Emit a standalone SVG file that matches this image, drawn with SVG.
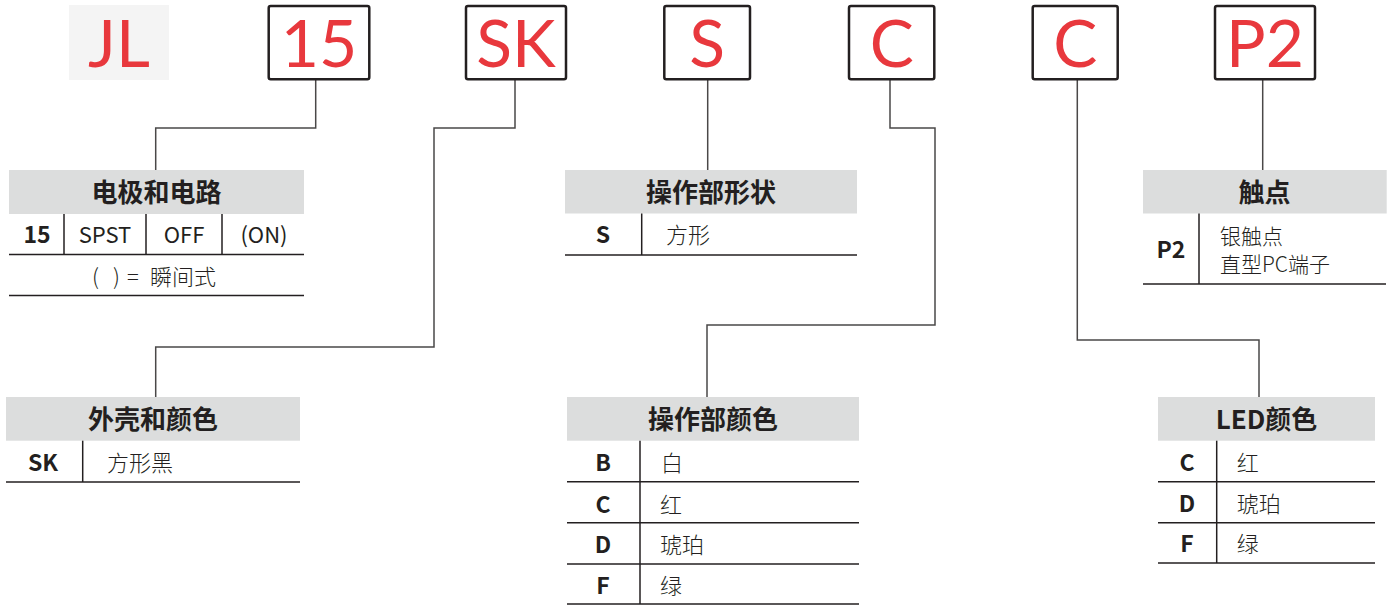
<svg xmlns="http://www.w3.org/2000/svg" width="1389" height="605" viewBox="0 0 1389 605">
<style>
.box{fill:#fff;stroke:#231f20;stroke-width:2.5}
.code{font-family:Lato,"Liberation Sans",sans-serif;font-size:66px;fill:#e8383d;text-anchor:middle;font-weight:400}
.hdr{fill:#dcdddd}
.ht{font-family:"Noto Sans CJK SC",sans-serif;font-size:26px;font-weight:700;fill:#231f20;text-anchor:middle}
.lbl{font-family:"Noto Sans CJK SC",sans-serif;font-size:23px;font-weight:700;fill:#231f20;text-anchor:middle}
.val{font-family:"Noto Sans CJK SC",sans-serif;font-size:22px;font-weight:300;fill:#231f20}
.val2{font-family:"Noto Sans CJK SC",sans-serif;font-size:21px;font-weight:300;fill:#231f20}
.valc{font-family:"Noto Sans CJK SC",sans-serif;font-size:22px;font-weight:400;fill:#231f20;text-anchor:middle}
.tl{stroke:#231f20;stroke-width:1.5;fill:none}
.cn{stroke:#4a4848;stroke-width:1.5;fill:none}
</style>

<g id="connectors">
<polyline class="cn" points="315.7,79 315.7,128 155.7,128 155.7,170"/>
<polyline class="cn" points="515,79 515,128 434,128 434,347 155.7,347 155.7,397"/>
<polyline class="cn" points="707.7,79 707.7,170"/>
<polyline class="cn" points="890,79 890,128 935,128 935,325 707,325 707,397"/>
<polyline class="cn" points="1077.3,79 1077.3,340 1259,340 1259,397"/>
<polyline class="cn" points="1262.7,79 1262.7,170"/>
</g>

<g id="code-JL">
<rect x="69" y="5" width="100" height="75" fill="#f4f4f4"/>
<text class="code" x="119" y="67">JL</text>
</g>
<g id="code-15">
<rect class="box" x="268.7" y="6" width="100.6" height="73.3" rx="2"/>
<text class="code" x="319" y="67">15</text>
</g>
<g id="code-SK">
<rect class="box" x="466" y="6" width="100" height="73.3" rx="2"/>
<text class="code" x="516" y="67">SK</text>
</g>
<g id="code-S">
<rect class="box" x="664.3" y="6" width="85.7" height="73.3" rx="2"/>
<text class="code" x="707.2" y="67">S</text>
</g>
<g id="code-C">
<rect class="box" x="849" y="6" width="85.3" height="73.3" rx="2"/>
<text class="code" x="891.7" y="67">C</text>
</g>
<g id="code-C2">
<rect class="box" x="1032.7" y="6" width="85" height="73.3" rx="2"/>
<text class="code" x="1075.2" y="67">C</text>
</g>
<g id="code-P2">
<rect class="box" x="1215" y="6" width="100" height="73.3" rx="2"/>
<text class="code" x="1265" y="67">P2</text>
</g>

<g id="table-poles">
<rect class="hdr" x="9" y="170" width="295" height="44"/>
<text class="ht" x="156.5" y="202">电极和电路</text>
<line class="tl" x1="64" y1="214" x2="64" y2="254"/>
<line class="tl" x1="146" y1="214" x2="146" y2="254"/>
<line class="tl" x1="222" y1="214" x2="222" y2="254"/>
<line class="tl" x1="9" y1="254.5" x2="304" y2="254.5"/>
<line class="tl" x1="9" y1="295.5" x2="304" y2="295.5"/>
<text class="lbl" x="37" y="243">15</text>
<text class="valc" x="105" y="243">SPST</text>
<text class="valc" x="184" y="243">OFF</text>
<text class="valc" x="264" y="243">(ON)</text>
<text class="val" y="285"><tspan x="92">(</tspan><tspan x="113">)</tspan><tspan x="127">=</tspan><tspan x="150">瞬间式</tspan></text>
</g>

<g id="table-actuator-shape">
<rect class="hdr" x="565" y="170" width="292" height="43.5"/>
<text class="ht" x="711" y="202">操作部形状</text>
<line class="tl" x1="641.7" y1="213.5" x2="641.7" y2="255"/>
<line class="tl" x1="565" y1="255" x2="857" y2="255"/>
<text class="lbl" x="603" y="243">S</text>
<text class="val" x="666" y="243">方形</text>
</g>

<g id="table-contact">
<rect class="hdr" x="1143" y="170" width="243.7" height="43.5"/>
<text class="ht" x="1264.5" y="202">触点</text>
<line class="tl" x1="1199" y1="213.5" x2="1199" y2="284"/>
<line class="tl" x1="1143" y1="284" x2="1386" y2="284"/>
<text class="lbl" x="1171" y="257.5">P2</text>
<text class="val2" x="1220" y="244">银触点</text>
<text class="val2" x="1220" y="272">直型PC端子</text>
</g>

<g id="table-housing">
<rect class="hdr" x="6" y="397" width="294" height="43.7"/>
<text class="ht" x="153" y="429">外壳和颜色</text>
<line class="tl" x1="82.7" y1="440.7" x2="82.7" y2="482"/>
<line class="tl" x1="6" y1="482" x2="300" y2="482"/>
<text class="lbl" x="43" y="471">SK</text>
<text class="val" x="107" y="471">方形黑</text>
</g>

<g id="table-actuator-color">
<rect class="hdr" x="567" y="397" width="292" height="43.7"/>
<text class="ht" x="713" y="429">操作部颜色</text>
<line class="tl" x1="640" y1="440.7" x2="640" y2="604"/>
<line class="tl" x1="567" y1="481.7" x2="859" y2="481.7"/>
<line class="tl" x1="567" y1="522.7" x2="859" y2="522.7"/>
<line class="tl" x1="567" y1="564" x2="859" y2="564"/>
<line class="tl" x1="567" y1="604" x2="859" y2="604"/>
<text class="lbl" x="603" y="471">B</text>
<text class="val" x="661" y="471">白</text>
<text class="lbl" x="603" y="512.5">C</text>
<text class="val" x="660" y="512.5">红</text>
<text class="lbl" x="603" y="553">D</text>
<text class="val" x="660" y="553">琥珀</text>
<text class="lbl" x="603" y="593.5">F</text>
<text class="val" x="660" y="593.5">绿</text>
</g>

<g id="table-led-color">
<rect class="hdr" x="1158" y="397" width="217" height="43.7"/>
<text class="ht" x="1266.5" y="429">LED颜色</text>
<line class="tl" x1="1216.7" y1="440.7" x2="1216.7" y2="563"/>
<line class="tl" x1="1158" y1="481.7" x2="1375" y2="481.7"/>
<line class="tl" x1="1158" y1="522.7" x2="1375" y2="522.7"/>
<line class="tl" x1="1158" y1="563" x2="1375" y2="563"/>
<text class="lbl" x="1187" y="471">C</text>
<text class="val" x="1236.7" y="471">红</text>
<text class="lbl" x="1187" y="512">D</text>
<text class="val" x="1236.7" y="512">琥珀</text>
<text class="lbl" x="1187" y="552">F</text>
<text class="val" x="1236.7" y="552">绿</text>
</g>
</svg>
